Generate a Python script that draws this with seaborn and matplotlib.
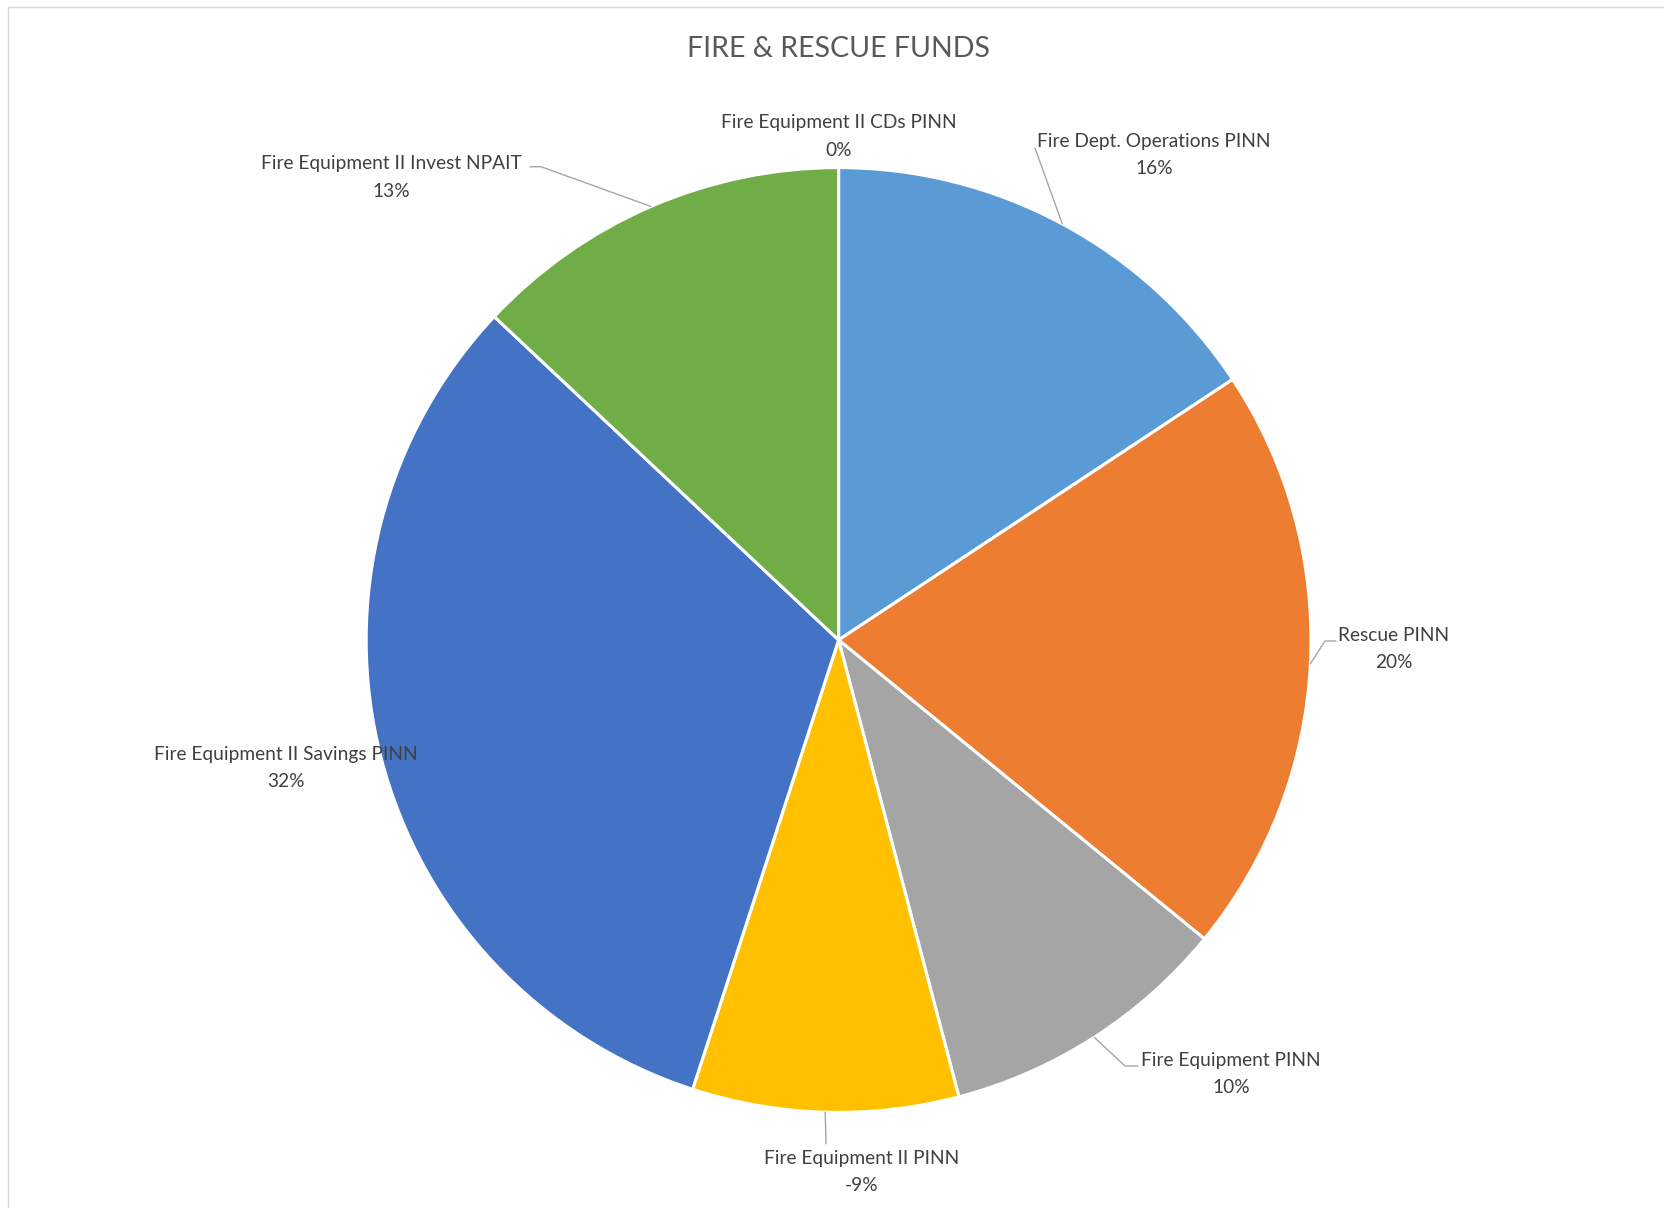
import numpy as np
import matplotlib
matplotlib.use("Agg")
import matplotlib.pyplot as plt
import seaborn as sns

# ---- data ----
categories = [
    "Fire Equipment II CDs PINN",
    "Fire Dept. Operations PINN",
    "Rescue PINN",
    "Fire Equipment PINN",
    "Fire Equipment II PINN",
    "Fire Equipment II Savings PINN",
    "Fire Equipment II Invest NPAIT",
]
values = [0.0, 15.7, 20.2, 10.0, -9.1, 32.0, 13.0]
colors = ["#A5A5A5", "#5B9BD5", "#ED7D31", "#A5A5A5", "#FFC000", "#4472C4", "#70AD47"]
title = "FIRE & RESCUE FUNDS"

sns.set_theme(style="white")
plt.rcParams["font.family"] = ["Lato", "DejaVu Sans"]

W, H = 1665, 1208
CX, CY, R = 838.6, 640.0, 472.4

fig = plt.figure(figsize=(W / 100, H / 100), dpi=100)
ax = fig.add_axes([0, 0, 1, 1])

abs_vals = [abs(v) for v in values]
total = sum(abs_vals)
wedges, _ = ax.pie(abs_vals, colors=colors, startangle=90, counterclock=False,
                   radius=1, center=(0, 0),
                   wedgeprops=dict(edgecolor="white", linewidth=2.2))

def p2d(px, py):
    return ((px - CX) / R, (CY - py) / R)

# layout: label center (px), optional leader elbow and text-side end (px)
layout = {
    0: dict(pos=(838.6, 136.5), leader=None),
    1: dict(pos=(1154, 155), leader=[(1035, 148)]),
    2: dict(pos=(1394, 649), leader=[(1325, 641), (1336, 641)]),
    3: dict(pos=(1231, 1074), leader=[(1125, 1066), (1138, 1066)]),
    4: dict(pos=(862, 1172), leader=[(826, 1144)]),
    5: dict(pos=(285.6, 768), leader=None),
    6: dict(pos=(391.7, 177.5), leader=[(541, 166.7), (530, 166.7)]),
}

for i, w in enumerate(wedges):
    share = values[i] / total
    lab = f"{categories[i]}\n{share:.0%}"
    lx, ly = p2d(*layout[i]["pos"])
    ax.text(lx, ly, lab, ha="center", va="center", fontsize=13.8,
            color="#404040", linespacing=1.72)
    if layout[i]["leader"]:
        ang = np.deg2rad((w.theta1 + w.theta2) / 2)
        pts = [(np.cos(ang), np.sin(ang))] + [p2d(*p) for p in layout[i]["leader"]]
        xs, ys = zip(*pts)
        ax.plot(xs, ys, color="#A6A6A6", lw=1.0)

tx, ty = p2d(838.6, 48.5)
ax.text(tx, ty, title, ha="center", va="center", fontsize=20.5, color="#595959")

ax.set_xlim(-CX / R, (W - CX) / R)
ax.set_ylim(-(H - CY) / R, CY / R)
ax.set_aspect("equal")
ax.set_axis_off()

border = plt.Rectangle((8.5 / W, -0.01), 1.1, (H - 6.5) / H + 0.01, transform=fig.transFigure,
                       fill=False, edgecolor="#D9D9D9", lw=1.0)
fig.patches.append(border)

fig.savefig("out.png", dpi=100, facecolor="white")
